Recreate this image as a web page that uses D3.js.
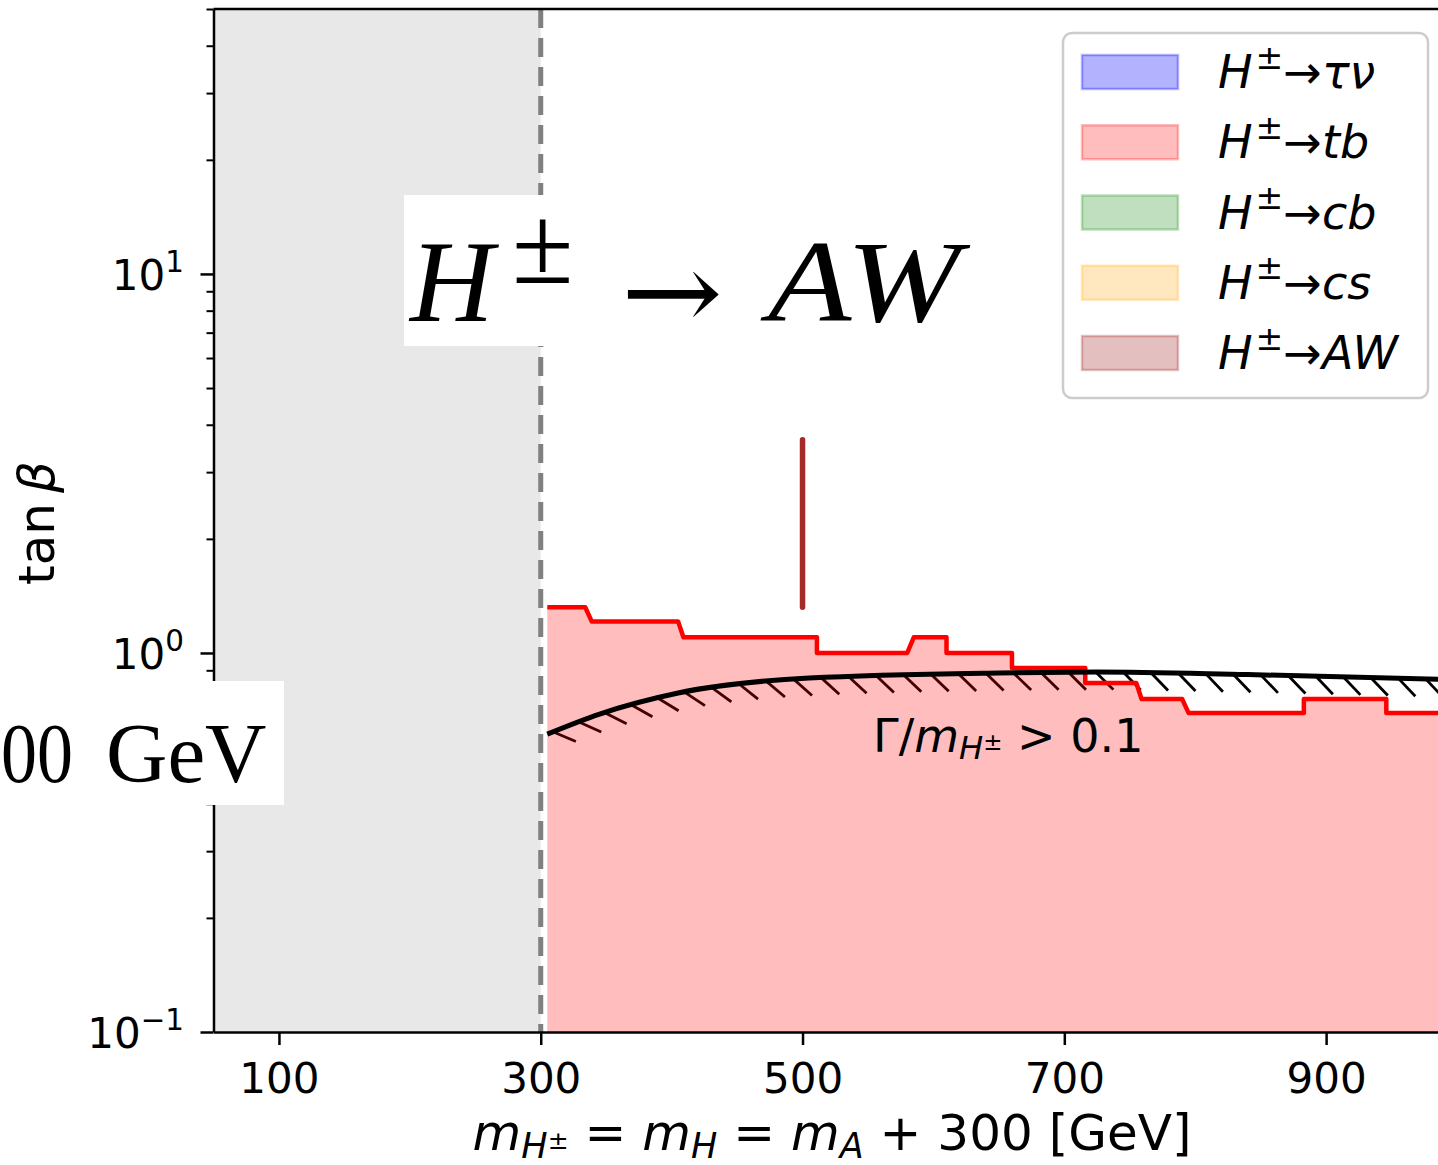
<!doctype html>
<html>
<head>
<meta charset="UTF-8">
<title>H to AW</title>
<script src="https://d3js.org/d3.v7.min.js"></script>
<style>
  body { margin: 0; background: #fff; }
  svg { display: block; }
</style>
</head>
<body>
<svg id="chart" width="1438" height="1165"></svg>
<script>
// ---- data ----
var xTicks = [100, 300, 500, 700, 900];
var yMajor = [0.1, 1, 10];
var yExpLabels = ["\u22121", "0", "1"];

// excluded region (grey) and its edge
var excludedX = [50, 300];

// H -> tb contour (upper edge of the red region)
var tbX = [305, 334, 339, 405, 409, 511, 511, 580, 585, 610, 610, 660, 660, 716, 716, 755, 759, 790, 795, 883, 883, 946, 946, 1000];
var tbY = [1.32, 1.32, 1.21, 1.21, 1.10, 1.10, 1.0, 1.0, 1.10, 1.10, 1.0, 1.0, 0.913, 0.913, 0.833, 0.833, 0.756, 0.756, 0.694, 0.694, 0.756, 0.756, 0.694, 0.694];

// width condition Gamma/m > 0.1
var widthX = [305, 345, 405, 505, 650, 725, 840, 1000];
var widthY = [0.611, 0.69, 0.784, 0.859, 0.886, 0.891, 0.877, 0.85];

// H -> AW segment
var awX = [500, 500];
var awY = [1.32, 3.65];

// legend
var legendNames = ["\u03c4\u03bd", "tb", "cb", "cs", "AW"];
var legendColors = ["#0000ff", "#ff0000", "#008000", "#ffa500", "#a52a2a"];
var legendAlpha = [0.3, 0.26, 0.25, 0.25, 0.3];

// ---- layout ----
var svg = d3.select("#chart");
var top0 = 9, bottom0 = 1032, left0 = 213.5;
var x = d3.scaleLinear().domain([50, 1000]).range([left0, 1457]);
var y = d3.scaleLog().domain([0.1, 50]).range([bottom0, top0]);

var sans = "DejaVu Sans";
var serif = "Liberation Serif";

svg.append("defs").append("clipPath").attr("id", "plotclip")
  .append("rect").attr("x", left0).attr("y", top0)
  .attr("width", x(1000) - left0).attr("height", bottom0 - top0);

var plot = svg.append("g").attr("clip-path", "url(#plotclip)");

// grey excluded band
plot.append("rect")
  .attr("x", x(excludedX[0])).attr("y", top0)
  .attr("width", x(excludedX[1]) - x(excludedX[0]))
  .attr("height", bottom0 - top0)
  .attr("fill", "#e8e8e8");

var tbPts = tbX.map(function(d, i){ return [d, tbY[i]]; });
var widthPts = widthX.map(function(d, i){ return [d, widthY[i]]; });

var widthLine = d3.line()
  .x(function(d){ return x(d[0]); })
  .y(function(d){ return y(d[1]); })
  .curve(d3.curveMonotoneX);

// ticked stroke under the width curve (hatch), drawn before the red fill
var hidden = svg.append("path").attr("d", widthLine(widthPts)).attr("fill", "none").attr("stroke", "none");
var node = hidden.node();
var total = node.getTotalLength();
var ticks = [];
for (var s = 6; s < total; s += 27.5) {
  var p = node.getPointAtLength(s);
  var a = node.getPointAtLength(Math.max(0, s - 1));
  var b = node.getPointAtLength(Math.min(total, s + 1));
  var tx = b.x - a.x, ty = b.y - a.y, n = Math.sqrt(tx * tx + ty * ty);
  tx /= n; ty /= n;
  var c = Math.cos(Math.PI / 4), sn = Math.sin(Math.PI / 4);
  var dx = tx * c - ty * sn, dy = tx * sn + ty * c;
  ticks.push([p.x, p.y, p.x + dx * 25, p.y + dy * 25]);
}
hidden.remove();

plot.selectAll("line.hatch").data(ticks).enter().append("line")
  .attr("class", "hatch")
  .attr("x1", function(d){ return d[0]; })
  .attr("y1", function(d){ return d[1]; })
  .attr("x2", function(d){ return d[2]; })
  .attr("y2", function(d){ return d[3]; })
  .attr("stroke", "#000").attr("stroke-width", 2.8);

// red region below the tb contour
var tbArea = d3.area()
  .x(function(d){ return x(d[0]); })
  .y0(y(0.1))
  .y1(function(d){ return y(d[1]); });

plot.append("path").attr("d", tbArea(tbPts))
  .attr("fill", "#ff0000").attr("fill-opacity", 0.26);

plot.append("path")
  .attr("d", d3.line().x(function(d){ return x(d[0]); }).y(function(d){ return y(d[1]); })(tbPts))
  .attr("fill", "none").attr("stroke", "#ff0000").attr("stroke-width", 4.5)
  .attr("stroke-linejoin", "round");

// width curve
plot.append("path").attr("d", widthLine(widthPts))
  .attr("fill", "none").attr("stroke", "#000").attr("stroke-width", 5);

// dashed edge at 300
plot.append("line")
  .attr("x1", x(excludedX[1])).attr("x2", x(excludedX[1]))
  .attr("y1", top0).attr("y2", bottom0)
  .attr("stroke", "#808080").attr("stroke-width", 5)
  .attr("stroke-dasharray", "19,10");

// AW segment
plot.append("line")
  .attr("x1", x(awX[0])).attr("x2", x(awX[1]))
  .attr("y1", y(awY[0])).attr("y2", y(awY[1]))
  .attr("stroke", "#a52a2a").attr("stroke-width", 5.5)
  .attr("stroke-linecap", "round");

// ---- math text helper ----
function mathText(g, px, py, size, parts, anchor, family) {
  var t = g.append("text")
    .attr("x", px).attr("y", py)
    .attr("font-size", size)
    .attr("font-family", family || sans)
    .attr("text-anchor", anchor || "start")
    .attr("fill", "#000");
  var cur = 0;
  parts.forEach(function(p){
    var target = -(p.shift || 0) * size;
    var ts = t.append("tspan")
      .attr("dy", target - cur)
      .attr("font-size", size * (p.scale || 1))
      .attr("font-style", p.it ? "italic" : "normal")
      .text(p.t);
    if (p.dx) ts.attr("dx", p.dx);
    cur = target;
  });
  return t;
}

// Gamma label
mathText(svg, 873, 752, 46, [
  {t: "\u0393/"},
  {t: "m", it: true},
  {t: "H", it: true, scale: 0.7, shift: -0.16},
  {t: "\u00b1", scale: 0.5, shift: 0.05},
  {t: " > 0.1", shift: 0}
]);

// ---- axes ----
var xAxis = svg.append("g")
  .attr("transform", "translate(0," + bottom0 + ")")
  .call(d3.axisBottom(x).tickValues(xTicks).tickSize(13).tickSizeOuter(0).tickFormat(d3.format("d")));
xAxis.select(".domain").attr("stroke", "#000").attr("stroke-width", 2.5);
xAxis.selectAll(".tick line").attr("stroke", "#000").attr("stroke-width", 2.5);
xAxis.selectAll(".tick text").attr("font-size", 42).attr("font-family", sans)
  .attr("fill", "#000").attr("dy", null).attr("y", 61);

var yMinor = [];
[0.1, 1, 10].forEach(function(dec){
  for (var k = 2; k <= 9; k++) { if (dec * k <= 50.0001) yMinor.push(dec * k); }
});
var yAll = yMajor.concat(yMinor);

var yAxis = svg.append("g")
  .attr("transform", "translate(" + left0 + ",0)")
  .call(d3.axisLeft(y).tickValues(yAll).tickSizeOuter(0).tickFormat(""));
yAxis.select(".domain").attr("stroke", "#000").attr("stroke-width", 2.5);
yAxis.selectAll(".tick line")
  .attr("stroke", "#000")
  .attr("stroke-width", function(d){ return yMajor.indexOf(d) >= 0 ? 2.5 : 2; })
  .attr("x2", function(d){ return yMajor.indexOf(d) >= 0 ? -13 : -7; });
yAxis.selectAll(".tick text").remove();

yMajor.forEach(function(v, i){
  mathText(svg, 184, y(v) + 16, 42, [
    {t: "10"},
    {t: yExpLabels[i], scale: 0.7, shift: 0.42}
  ], "end");
});

// top spine
svg.append("line").attr("x1", left0).attr("x2", 1438).attr("y1", top0).attr("y2", top0)
  .attr("stroke", "#000").attr("stroke-width", 2.5);

// axis labels
mathText(svg, 832, 1150, 50, [
  {t: "m", it: true},
  {t: "H", it: true, scale: 0.7, shift: -0.16},
  {t: "\u00b1", scale: 0.5, shift: 0.02},
  {t: " = ", shift: 0},
  {t: "m", it: true},
  {t: "H", it: true, scale: 0.7, shift: -0.16},
  {t: " = ", shift: 0},
  {t: "m", it: true},
  {t: "A", it: true, scale: 0.7, shift: -0.16},
  {t: " + 300 [GeV]", shift: 0}
], "middle");

var yl = svg.append("g").attr("transform", "translate(54,523) rotate(-90)");
mathText(yl, 0, 0, 50, [
  {t: "tan\u2009"},
  {t: "\u03b2", it: true}
], "middle");

// ---- annotation boxes ----
svg.append("rect").attr("x", 404).attr("y", 195).attr("width", 572).attr("height", 151).attr("fill", "#fff");
svg.append("text").attr("x", 410).attr("y", 321).attr("font-family", serif)
  .attr("font-size", 116).attr("font-style", "italic").text("H");
svg.append("text").attr("x", 512).attr("y", 283).attr("font-family", serif)
  .attr("font-size", 112).text("\u00b1");
svg.append("text").attr("x", 621).attr("y", 330).attr("font-family", "DejaVu Serif")
  .attr("font-size", 110).attr("textLength", 102).attr("lengthAdjust", "spacingAndGlyphs").text("\u2192");
svg.append("text").attr("x", 768).attr("y", 321).attr("font-family", serif)
  .attr("font-size", 116).attr("font-style", "italic")
  .attr("textLength", 192).attr("lengthAdjust", "spacingAndGlyphs").text("AW");

svg.append("rect").attr("x", -5).attr("y", 681).attr("width", 289).attr("height", 124).attr("fill", "#fff");
svg.append("text").attr("x", 1).attr("y", 782).attr("font-family", serif)
  .attr("font-size", 85).attr("textLength", 72).attr("lengthAdjust", "spacingAndGlyphs").text("00");
svg.append("text").attr("x", 106).attr("y", 782).attr("font-family", serif)
  .attr("font-size", 85).text("GeV");

// ---- legend ----
var leg = svg.append("g");
leg.append("rect").attr("x", 1063).attr("y", 33).attr("width", 365).attr("height", 365)
  .attr("rx", 9).attr("fill", "#fff").attr("fill-opacity", 0.9)
  .attr("stroke", "#cccccc").attr("stroke-width", 2.5);

var rowY = d3.scaleLinear().domain([0, 4]).range([72, 353]);
legendNames.forEach(function(name, i){
  leg.append("rect")
    .attr("x", 1082).attr("y", rowY(i) - 17).attr("width", 96).attr("height", 34)
    .attr("fill", legendColors[i]).attr("fill-opacity", legendAlpha[i])
    .attr("stroke", legendColors[i]).attr("stroke-opacity", legendAlpha[i])
    .attr("stroke-width", 2.5);
  mathText(leg, 1218, rowY(i) + 16, 46, [
    {t: "H", it: true},
    {t: "\u00b1", scale: 0.72, shift: 0.42, dx: 3},
    {t: "\u2192", shift: 0},
    {t: name, it: true, shift: 0}
  ]);
});
</script>
</body>
</html>
